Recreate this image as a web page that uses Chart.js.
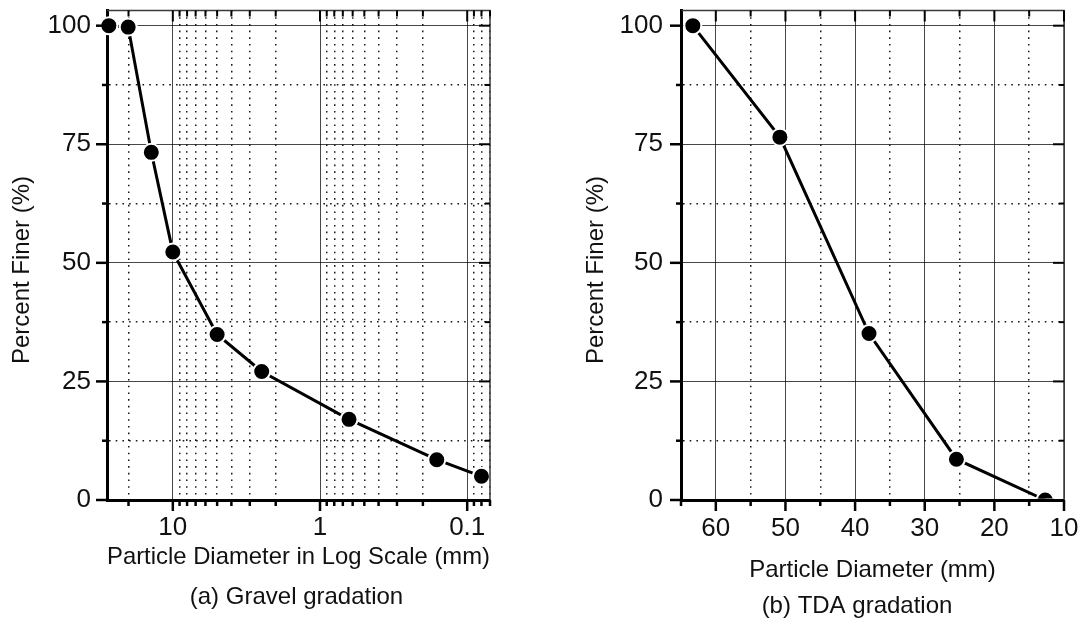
<!DOCTYPE html>
<html>
<head>
<meta charset="utf-8">
<title>Gradation curves</title>
<script src="https://cdn.jsdelivr.net/npm/chart.js@4"></script>
<style>
  html, body { margin: 0; padding: 0; background: #fff; }
  body { position: relative; width: 1090px; height: 624px; overflow: hidden; }
  canvas { position: absolute; top: 0; }
  #gravel-chart { left: 0; }
  #tda-chart { left: 560px; }
</style>
</head>
<body>
<canvas id="gravel-chart" width="560" height="624"></canvas>
<canvas id="tda-chart" width="530" height="624"></canvas>
<script>
// sieve results: particle size (mm) and percent passing
const gravelSize = [27.2, 20.1, 14.0, 10.0, 5.0, 2.49, 0.635, 0.161, 0.080];
const gravelFiner = [100, 99.7, 73.3, 52.3, 34.9, 27.1, 17.0, 8.5, 5.0];
const tdaSize = [63.3, 50.8, 38.0, 25.45, 12.7];
const tdaFiner = [100, 76.5, 35.1, 8.6, 0];

// axis ticks (labelled ones are the major ticks)
const percentTicks = [0, 12.5, 25, 37.5, 50, 62.5, 75, 87.5, 100];
const percentLabels = [0, 25, 50, 75, 100];
const logTicks = [20, 10, 9, 8, 7, 6, 5, 4, 3, 2, 1, 0.9, 0.8, 0.7, 0.6, 0.5, 0.4, 0.3, 0.2, 0.1, 0.09, 0.08, 0.07];
const logLabels = [10, 1, 0.1];
const tdaTicks = [65, 60, 55, 50, 45, 40, 35, 30, 25, 20, 15, 10];
const tdaLabels = [60, 50, 40, 30, 20, 10];

const FONT = "'Liberation Sans', Arial, sans-serif";
const INK = '#111';

Chart.defaults.font.family = FONT;
Chart.defaults.color = INK;

function setTicks(values, labels) {
  return scale => {
    scale.ticks = values.map(v => ({ value: v, major: labels.includes(v) }));
  };
}

// fixed axis thickness, no extra padding for edge labels
function fixSize(prop, size) {
  return scale => {
    scale[prop] = size;
    scale.paddingLeft = scale.paddingRight = scale.paddingTop = scale.paddingBottom = 0;
  };
}

const isMajor = c => !!(c.tick && c.tick.major);
const gridColor = c => isMajor(c) ? 'rgba(0,0,0,0.72)' : 'rgba(0,0,0,0.9)';
const gridWidth = c => isMajor(c) ? 1 : 1.5;
const gridDash = c => (c.tick && !c.tick.major) ? [1.6, 5.1] : [];

function percentAxis(width, pad) {
  return {
    type: 'linear',
    min: 0,
    max: 103.2,
    afterBuildTicks: setTicks(percentTicks, percentLabels),
    afterFit: fixSize('width', width),
    grid: { drawTicks: false, color: gridColor, lineWidth: gridWidth },
    border: { color: '#000', width: 3, dash: gridDash },
    ticks: {
      padding: pad,
      color: INK,
      font: { size: 26 },
      autoSkip: false,
      callback: v => percentLabels.includes(v) ? String(v) : ''
    }
  };
}

function sizeAxis(extra) {
  return Object.assign({
    reverse: true,
    grid: { drawTicks: false, color: gridColor, lineWidth: gridWidth },
    border: { color: '#000', width: 3, dash: gridDash }
  }, extra);
}

function tickFont(padding, labels) {
  return {
    padding,
    color: INK,
    font: { size: 26 },
    autoSkip: false,
    maxRotation: 0,
    minRotation: 0,
    callback: v => labels.includes(v) ? String(v) : ''
  };
}

// top/right frame, tick marks on all four sides, y title and caption
const framePlugin = {
  id: 'frame',
  afterDraw(chart, args, opts) {
    const { ctx, chartArea: a, scales: { x, y } } = chart;
    const seg = (x1, y1, x2, y2) => {
      ctx.beginPath();
      ctx.moveTo(x1, y1);
      ctx.lineTo(x2, y2);
      ctx.stroke();
    };
    ctx.save();
    ctx.strokeStyle = '#3a3a3a';
    ctx.lineWidth = 1.5;
    ctx.beginPath();
    ctx.moveTo(a.left, a.top);
    ctx.lineTo(a.right, a.top);
    ctx.lineTo(a.right, a.bottom);
    ctx.stroke();

    ctx.strokeStyle = '#000';
    x.ticks.forEach(t => {
      const px = x.getPixelForValue(t.value);
      const len = t.major ? 11 : 6;
      ctx.lineWidth = 2.5;
      seg(px, a.bottom, px, a.bottom + len);
      ctx.lineWidth = 2;
      seg(px, a.top, px, a.top + len);
    });
    y.ticks.forEach(t => {
      const py = y.getPixelForValue(t.value);
      const len = t.major ? 11 : 5;
      ctx.lineWidth = 2.5;
      seg(a.left - len, py, a.left, py);
      ctx.lineWidth = 2;
      seg(a.right - len, py, a.right, py);
    });

    ctx.fillStyle = INK;
    ctx.font = '24px ' + FONT;
    ctx.textAlign = 'center';
    ctx.textBaseline = 'middle';
    ctx.fillText(opts.caption, opts.captionX, opts.captionY);

    ctx.translate(opts.titleX, opts.titleY);
    ctx.rotate(-Math.PI / 2);
    ctx.fillText(opts.title, 0, 0);
    ctx.restore();
  }
};

function curve(sizes, finer, clip) {
  return {
    data: sizes.map((d, i) => ({ x: d, y: finer[i] })),
    showLine: true,
    borderColor: '#000',
    borderWidth: 3,
    pointRadius: 8.5,
    pointHoverRadius: 8.5,
    pointBorderWidth: 2,
    pointBackgroundColor: '#000',
    pointBorderColor: '#fff',
    clip
  };
}

// (a) gravel, log scale
new Chart(document.getElementById('gravel-chart'), {
  type: 'scatter',
  data: { datasets: [curve(gravelSize, gravelFiner, 12)] },
  plugins: [framePlugin],
  options: {
    responsive: false,
    animation: false,
    layout: { padding: { left: 0, right: 70, top: 9, bottom: 40.8 } },
    scales: {
      x: sizeAxis({
        type: 'logarithmic',
        min: 0.07,
        max: 28,
        afterBuildTicks: setTicks(logTicks, logLabels),
        afterFit: fixSize('height', 83.2),
        ticks: tickFont(12.7, logLabels),
        title: {
          display: true,
          text: 'Particle Diameter in Log Scale (mm)',
          color: INK,
          font: { size: 24 },
          padding: { top: 0, bottom: 11.5 }
        }
      }),
      y: percentAxis(107, 16)
    },
    plugins: {
      legend: { display: false },
      tooltip: { enabled: false },
      frame: {
        title: 'Percent Finer (%)', titleX: 22, titleY: 270,
        caption: '(a) Gravel gradation', captionX: 296.5, captionY: 597.7
      }
    }
  }
});

// (b) TDA, linear scale
new Chart(document.getElementById('tda-chart'), {
  type: 'scatter',
  data: { datasets: [curve(tdaSize, tdaFiner, { left: 12, top: 12, right: 12, bottom: -1.5 })] },
  plugins: [framePlugin],
  options: {
    responsive: false,
    animation: false,
    layout: { padding: { left: 0, right: 26, top: 9, bottom: 32.4 } },
    scales: {
      x: sizeAxis({
        type: 'linear',
        min: 10,
        max: 65,
        afterBuildTicks: setTicks(tdaTicks, tdaLabels),
        afterFit: fixSize('height', 91.6),
        ticks: tickFont(13.7, tdaLabels),
        title: {
          display: true,
          text: 'Particle Diameter (mm)',
          color: INK,
          font: { size: 24 },
          padding: { top: 0, bottom: 6.5 }
        }
      }),
      y: percentAxis(121, 18)
    },
    plugins: {
      legend: { display: false },
      tooltip: { enabled: false },
      frame: {
        title: 'Percent Finer (%)', titleX: 36, titleY: 270,
        caption: '(b) TDA gradation', captionX: 297, captionY: 606
      }
    }
  }
});
</script>
</body>
</html>
